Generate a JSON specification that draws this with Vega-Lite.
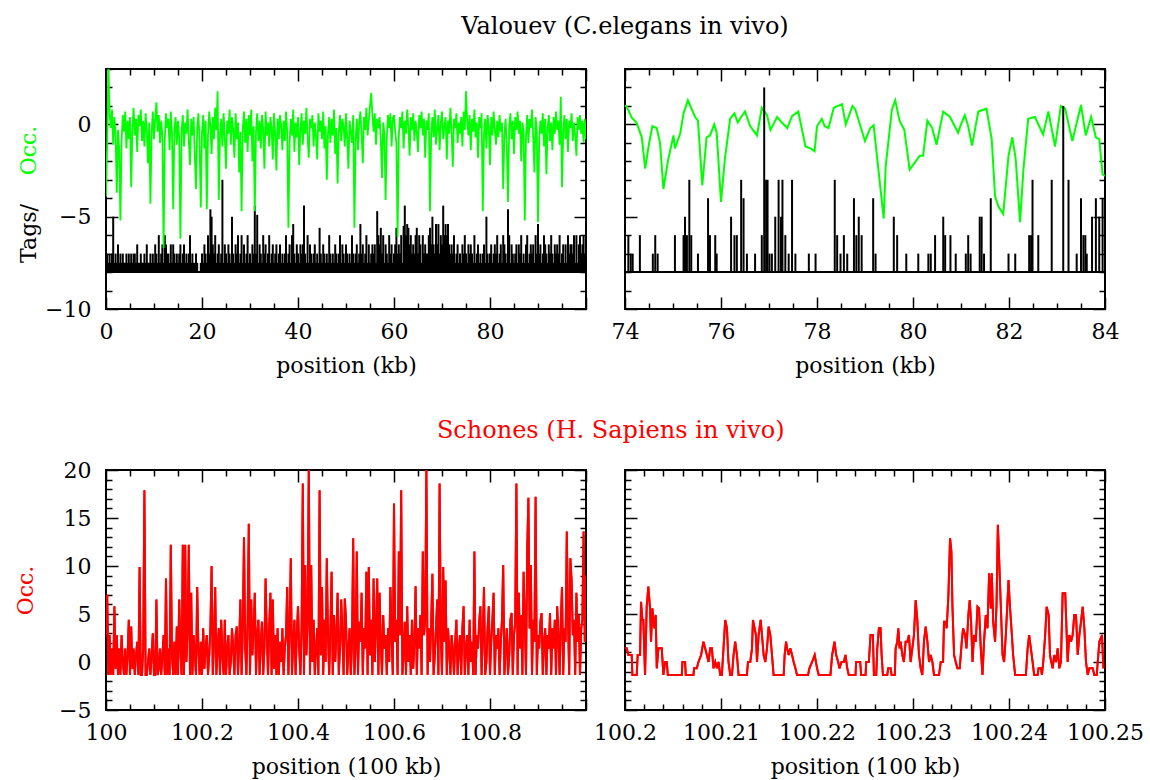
{
"$schema":"https://vega.github.io/schema/vega-lite/v6.json",
"background":"white",
"padding":{"left":13,"top":15,"right":4,"bottom":4},
"config":{"font":"DejaVu Serif","view":{"stroke":"black","strokeWidth":2},
"axis":{"grid":false,"domain":false,"labelFlush":false,"labelOverlap":false,"tickColor":"black","tickWidth":1.5,"labelFont":"DejaVu Serif","labelFontSize":22,"labelColor":"black","titleFont":"DejaVu Serif","titleFontSize":22,"titleFontWeight":"normal","titleColor":"black"},
"title":{"font":"DejaVu Serif","fontSize":24,"fontWeight":"normal","anchor":"middle"}},
"datasets":{
"a":[{"x":0,"o":-3.9,"t":-7.5},{"x":0.25,"o":-1,"t":-7},{"x":0.5,"o":3.2,"t":-7.5},{"x":0.75,"o":0.6,"t":-7},
{"x":1,"o":-0.2,"t":-7.5},{"x":1.25,"o":0.8,"t":-7},{"x":1.5,"o":-1.1,"t":-5},{"x":1.75,"o":0.4,"t":-7.5},
{"x":2,"o":-0.6,"t":-7},{"x":2.25,"o":-3.7,"t":-7.5},{"x":2.5,"o":-0.3,"t":-6.5},{"x":2.75,"o":-1.4,"t":-7.5},
{"x":3,"o":-5.2,"t":-7},{"x":3.25,"o":-0.9,"t":-7.5},{"x":3.5,"o":0.5,"t":-7},{"x":3.75,"o":-0.4,"t":-7.5},
{"x":4,"o":0.7,"t":-7.5},{"x":4.25,"o":-1.3,"t":-7},{"x":4.5,"o":0.2,"t":-7.5},{"x":4.75,"o":-0.8,"t":-7},
{"x":5,"o":0.4,"t":-7.5},{"x":5.25,"o":-3.4,"t":-7},{"x":5.5,"o":-0.2,"t":-7.5},{"x":5.75,"o":0.9,"t":-7},
{"x":6,"o":-0.6,"t":-7},{"x":6.25,"o":0.3,"t":-7.5},{"x":6.5,"o":-1.5,"t":-6.5},{"x":6.75,"o":0.5,"t":-7.5},
{"x":7,"o":-0.1,"t":-7.5},{"x":7.25,"o":0.8,"t":-7},{"x":7.5,"o":-0.9,"t":-7.5},{"x":7.75,"o":0.2,"t":-7.5},
{"x":8,"o":-1.2,"t":-7},{"x":8.25,"o":0.6,"t":-7.5},{"x":8.5,"o":-0.3,"t":-6.5},{"x":8.75,"o":-2.1,"t":-7.5},
{"x":9,"o":0.1,"t":-7.5},{"x":9.25,"o":-4.3,"t":-7},{"x":9.5,"o":-0.5,"t":-7.5},{"x":9.75,"o":0.7,"t":-7},
{"x":10,"o":-0.8,"t":-7.5},{"x":10.25,"o":0.3,"t":-6.5},{"x":10.5,"o":1.2,"t":-7},{"x":10.75,"o":-0.4,"t":-7.5},
{"x":11,"o":0.5,"t":-6},{"x":11.25,"o":-1,"t":-7.5},{"x":11.5,"o":0.2,"t":-7},{"x":11.75,"o":-0.6,"t":-6.5},
{"x":12,"o":-6.7,"t":-7.5},{"x":12.25,"o":-0.8,"t":-6},{"x":12.5,"o":0.6,"t":-6.5},{"x":12.75,"o":-0.2,"t":-7},
{"x":13,"o":0.3,"t":-7},{"x":13.25,"o":-1.4,"t":-7.5},{"x":13.5,"o":0.7,"t":-6.5},{"x":13.75,"o":-0.5,"t":-7.5},
{"x":14,"o":-4.6,"t":-6.5},{"x":14.25,"o":-0.3,"t":-7},{"x":14.5,"o":0.4,"t":-7.5},{"x":14.75,"o":-1.1,"t":-7},
{"x":15,"o":0.2,"t":-7.5},{"x":15.25,"o":-0.7,"t":-7},{"x":15.5,"o":-6.2,"t":-6.5},{"x":15.75,"o":-0.4,"t":-7.5},
{"x":16,"o":0.5,"t":-7},{"x":16.25,"o":-1.2,"t":-6.5},{"x":16.5,"o":0.1,"t":-7.5},{"x":16.75,"o":-0.5,"t":-7},
{"x":17,"o":0.8,"t":-7.5},{"x":17.25,"o":-0.9,"t":-7},{"x":17.5,"o":-2.2,"t":-6},{"x":17.75,"o":0.3,"t":-7.5},
{"x":18,"o":-0.6,"t":-7},{"x":18.25,"o":0.4,"t":-7.5},{"x":18.5,"o":-1.7,"t":-7.5},{"x":18.75,"o":-3.5,"t":-7},
{"x":19,"o":-0.2,"t":-7.5},{"x":19.25,"o":0.6,"t":-8},{"x":19.5,"o":-1,"t":-8},{"x":19.75,"o":-4.5,"t":-7.5},
{"x":20,"o":-0.4,"t":-7},{"x":20.25,"o":0.5,"t":-7.5},{"x":20.5,"o":-1.3,"t":-6.5},{"x":20.75,"o":0.2,"t":-7},
{"x":21,"o":-4.6,"t":-7.5},{"x":21.25,"o":-0.6,"t":-6},{"x":21.5,"o":0.7,"t":-7},{"x":21.75,"o":-0.1,"t":-4.6},
{"x":22,"o":-1.6,"t":-5},{"x":22.25,"o":0.4,"t":-6.5},{"x":22.5,"o":-0.8,"t":-7},{"x":22.75,"o":0.9,"t":-6},
{"x":23,"o":-0.3,"t":-7.5},{"x":23.25,"o":1.8,"t":-7},{"x":23.5,"o":-4.1,"t":-6.5},{"x":23.75,"o":-0.5,"t":-7.5},
{"x":24,"o":0.3,"t":-7},{"x":24.25,"o":-1.2,"t":-3},{"x":24.5,"o":0.6,"t":-7.5},{"x":24.75,"o":-0.7,"t":-6.5},
{"x":25,"o":-2.4,"t":-7},{"x":25.25,"o":0.2,"t":-7.5},{"x":25.5,"o":-0.5,"t":-6.5},{"x":25.75,"o":0.8,"t":-7},
{"x":26,"o":-1.1,"t":-7.5},{"x":26.25,"o":0.4,"t":-5},{"x":26.5,"o":-0.3,"t":-7},{"x":26.75,"o":-1.8,"t":-7.5},
{"x":27,"o":0.6,"t":-6.5},{"x":27.25,"o":-0.8,"t":-7},{"x":27.5,"o":0.1,"t":-6},{"x":27.75,"o":-2.6,"t":-7.5},
{"x":28,"o":-0.4,"t":-7},{"x":28.25,"o":-4.7,"t":-6},{"x":28.5,"o":-0.2,"t":-7.5},{"x":28.75,"o":0.7,"t":-6.5},
{"x":29,"o":-1,"t":-7.5},{"x":29.25,"o":0.3,"t":-7},{"x":29.5,"o":-1.5,"t":-6},{"x":29.75,"o":0.5,"t":-7.5},
{"x":30,"o":-0.6,"t":-7},{"x":30.25,"o":0.8,"t":-7.5},{"x":30.5,"o":-2,"t":-6.5},{"x":30.75,"o":-0.1,"t":-7},
{"x":31,"o":-4.7,"t":-4.4},{"x":31.25,"o":-0.4,"t":-7},{"x":31.5,"o":0.6,"t":-4.9},{"x":31.75,"o":-0.9,"t":-7.5},
{"x":32,"o":0.2,"t":-6.5},{"x":32.25,"o":-1.3,"t":-7},{"x":32.5,"o":0.5,"t":-7.5},{"x":32.75,"o":-0.3,"t":-6},
{"x":33,"o":-2.4,"t":-7},{"x":33.25,"o":0.7,"t":-6.5},{"x":33.5,"o":-0.6,"t":-7.5},{"x":33.75,"o":0.1,"t":-7},
{"x":34,"o":-1.2,"t":-6},{"x":34.25,"o":0.4,"t":-7.5},{"x":34.5,"o":-0.2,"t":-7},{"x":34.75,"o":-1.9,"t":-6.5},
{"x":35,"o":0.6,"t":-7.5},{"x":35.25,"o":-0.5,"t":-7},{"x":35.5,"o":-2.5,"t":-6.5},{"x":35.75,"o":0.3,"t":-7.5},
{"x":36,"o":-0.8,"t":-7},{"x":36.25,"o":0.5,"t":-6.5},{"x":36.5,"o":-0.1,"t":-7.5},{"x":36.75,"o":-1.4,"t":-7},
{"x":37,"o":0.2,"t":-7.5},{"x":37.25,"o":-0.9,"t":-7},{"x":37.5,"o":0.7,"t":-6},{"x":37.75,"o":-0.4,"t":-7.5},
{"x":38,"o":-5.6,"t":-7},{"x":38.25,"o":-1,"t":-6.5},{"x":38.5,"o":0.3,"t":-7.5},{"x":38.75,"o":-0.6,"t":-6},
{"x":39,"o":0.8,"t":-5.4},{"x":39.25,"o":-1.5,"t":-7},{"x":39.5,"o":0.1,"t":-7.5},{"x":39.75,"o":-0.7,"t":-6.5},
{"x":40,"o":0.4,"t":-7},{"x":40.25,"o":-2.2,"t":-7.5},{"x":40.5,"o":-0.3,"t":-6.5},{"x":40.75,"o":0.6,"t":-7},
{"x":41,"o":-1.1,"t":-6.5},{"x":41.25,"o":0.2,"t":-4.4},{"x":41.5,"o":-0.5,"t":-7},{"x":41.75,"o":0.9,"t":-7.5},
{"x":42,"o":-0.7,"t":-6},{"x":42.25,"o":-1.8,"t":-7.5},{"x":42.5,"o":0.3,"t":-6.5},{"x":42.75,"o":-0.2,"t":-7},
{"x":43,"o":0.5,"t":-7.5},{"x":43.25,"o":-1.2,"t":-7},{"x":43.5,"o":0.1,"t":-6.5},{"x":43.75,"o":-0.6,"t":-7.5},
{"x":44,"o":-1.9,"t":-7},{"x":44.25,"o":0.6,"t":-7.5},{"x":44.5,"o":-0.4,"t":-5.6},{"x":44.75,"o":0.2,"t":-7},
{"x":45,"o":-0.8,"t":-7.5},{"x":45.25,"o":0.7,"t":-6.5},{"x":45.5,"o":-1.3,"t":-7},{"x":45.75,"o":-0.1,"t":-7.5},
{"x":46,"o":-3,"t":-7},{"x":46.25,"o":-0.5,"t":-7.5},{"x":46.5,"o":0.4,"t":-6},{"x":46.75,"o":-1,"t":-7},
{"x":47,"o":0.3,"t":-7.5},{"x":47.25,"o":-0.6,"t":-7},{"x":47.5,"o":0.8,"t":-7.5},{"x":47.75,"o":-1.6,"t":-6.5},
{"x":48,"o":-0.2,"t":-7},{"x":48.25,"o":-3.2,"t":-7.5},{"x":48.5,"o":-0.4,"t":-7},{"x":48.75,"o":0.5,"t":-6},
{"x":49,"o":-0.9,"t":-7.5},{"x":49.25,"o":0.3,"t":-6.5},{"x":49.5,"o":-0.1,"t":-7},{"x":49.75,"o":-1.2,"t":-7.5},
{"x":50,"o":0.6,"t":-6.5},{"x":50.25,"o":-0.7,"t":-7},{"x":50.5,"o":-2.4,"t":-7.5},{"x":50.75,"o":0.2,"t":-7},
{"x":51,"o":-0.4,"t":-7.5},{"x":51.25,"o":-1,"t":-6},{"x":51.5,"o":0.5,"t":-7},{"x":51.75,"o":-5.6,"t":-7.5},
{"x":52,"o":-0.8,"t":-7},{"x":52.25,"o":0.3,"t":-6.5},{"x":52.5,"o":-1.4,"t":-7.5},{"x":52.75,"o":0.1,"t":-7},
{"x":53,"o":0.7,"t":-5.4},{"x":53.25,"o":-0.5,"t":-7},{"x":53.5,"o":-2.1,"t":-6.5},{"x":53.75,"o":0.4,"t":-7.5},
{"x":54,"o":-0.3,"t":-7},{"x":54.25,"o":0.9,"t":-6},{"x":54.5,"o":-0.6,"t":-7.5},{"x":54.75,"o":0.2,"t":-6.5},
{"x":55,"o":1,"t":-7.5},{"x":55.25,"o":1.7,"t":-7},{"x":55.5,"o":0.5,"t":-6.5},{"x":55.75,"o":-0.4,"t":-7},
{"x":56,"o":0.6,"t":-6.5},{"x":56.25,"o":-1.1,"t":-7.5},{"x":56.5,"o":0.3,"t":-4.7},{"x":56.75,"o":-0.2,"t":-6},
{"x":57,"o":0.4,"t":-6.5},{"x":57.25,"o":-0.8,"t":-5.6},{"x":57.5,"o":-2.9,"t":-7},{"x":57.75,"o":0.1,"t":-6},
{"x":58,"o":-0.5,"t":-7.5},{"x":58.25,"o":-4.1,"t":-6.5},{"x":58.5,"o":-0.7,"t":-7},{"x":58.75,"o":0.5,"t":-7.5},
{"x":59,"o":-0.2,"t":-6},{"x":59.25,"o":0.6,"t":-7},{"x":59.5,"o":-1.2,"t":-6.5},{"x":59.75,"o":0.3,"t":-7.5},
{"x":60,"o":0.5,"t":-7},{"x":60.25,"o":-0.4,"t":-6.5},{"x":60.5,"o":-1,"t":-5.6},{"x":60.75,"o":-6.1,"t":-7},
{"x":61,"o":-0.6,"t":-6.5},{"x":61.25,"o":0.4,"t":-7},{"x":61.5,"o":-0.2,"t":-6},{"x":61.75,"o":0.7,"t":-7.5},
{"x":62,"o":-1.3,"t":-5.5},{"x":62.25,"o":0.2,"t":-4.4},{"x":62.5,"o":-0.5,"t":-6},{"x":62.75,"o":0.8,"t":-5.4},
{"x":63,"o":-0.1,"t":-5.6},{"x":63.25,"o":-1.7,"t":-6.5},{"x":63.5,"o":0.4,"t":-6},{"x":63.75,"o":-0.3,"t":-7},
{"x":64,"o":0.6,"t":-6.5},{"x":64.25,"o":-0.9,"t":-7},{"x":64.5,"o":0.2,"t":-6},{"x":64.75,"o":-0.4,"t":-5.6},
{"x":65,"o":-1.5,"t":-7},{"x":65.25,"o":0.5,"t":-6},{"x":65.5,"o":-0.2,"t":-6.5},{"x":65.75,"o":0.7,"t":-7.5},
{"x":66,"o":-0.6,"t":-6},{"x":66.25,"o":0.3,"t":-7},{"x":66.5,"o":-1.8,"t":-6.5},{"x":66.75,"o":0.2,"t":-7},
{"x":67,"o":-0.3,"t":-7},{"x":67.25,"o":0.6,"t":-6},{"x":67.5,"o":-4.7,"t":-5.6},{"x":67.75,"o":-0.5,"t":-6.5},
{"x":68,"o":0.4,"t":-5},{"x":68.25,"o":-0.7,"t":-6.5},{"x":68.5,"o":0.8,"t":-7},{"x":68.75,"o":-1.1,"t":-5.4},
{"x":69,"o":-0.2,"t":-6.5},{"x":69.25,"o":0.5,"t":-5.4},{"x":69.5,"o":-1.4,"t":-7},{"x":69.75,"o":0.1,"t":-6},
{"x":70,"o":0.7,"t":-6.5},{"x":70.25,"o":-0.8,"t":-4.4},{"x":70.5,"o":-0.1,"t":-6},{"x":70.75,"o":0.4,"t":-5.4},
{"x":71,"o":-1.9,"t":-6},{"x":71.25,"o":0.2,"t":-5.4},{"x":71.5,"o":-0.5,"t":-6.5},{"x":71.75,"o":0.9,"t":-7},
{"x":72,"o":-0.4,"t":-6.5},{"x":72.25,"o":-2.3,"t":-7},{"x":72.5,"o":0.3,"t":-6},{"x":72.75,"o":-0.2,"t":-7.5},
{"x":73,"o":0.6,"t":-7},{"x":73.25,"o":-1,"t":-6.5},{"x":73.5,"o":0.1,"t":-7.5},{"x":73.75,"o":-0.5,"t":-7},
{"x":74,"o":0.4,"t":-7.5},{"x":74.25,"o":-1.2,"t":-6.5},{"x":74.5,"o":0.7,"t":-7},{"x":74.75,"o":-0.3,"t":-6},
{"x":75,"o":1.8,"t":-7},{"x":75.25,"o":0.2,"t":-7.5},{"x":75.5,"o":-0.6,"t":-6.5},{"x":75.75,"o":0.5,"t":-7},
{"x":76,"o":-1.4,"t":-6.5},{"x":76.25,"o":0.3,"t":-7},{"x":76.5,"o":-0.4,"t":-7.5},{"x":76.75,"o":0.8,"t":-6},
{"x":77,"o":-0.7,"t":-7.5},{"x":77.25,"o":0.1,"t":-7},{"x":77.5,"o":-1.8,"t":-6.5},{"x":77.75,"o":0.4,"t":-7.5},
{"x":78,"o":-0.2,"t":-7},{"x":78.25,"o":0.6,"t":-7.5},{"x":78.5,"o":-4.7,"t":-7},{"x":78.75,"o":-0.5,"t":-6.5},
{"x":79,"o":0.3,"t":-7.5},{"x":79.25,"o":-1.3,"t":-5},{"x":79.5,"o":0.5,"t":-7},{"x":79.75,"o":-0.1,"t":-7.5},
{"x":80,"o":-2.2,"t":-7},{"x":80.25,"o":0.4,"t":-6.5},{"x":80.5,"o":-0.6,"t":-7.5},{"x":80.75,"o":0.7,"t":-7},
{"x":81,"o":-0.3,"t":-6.5},{"x":81.25,"o":-1.1,"t":-7},{"x":81.5,"o":0.2,"t":-6},{"x":81.75,"o":-0.7,"t":-7.5},
{"x":82,"o":0.5,"t":-7},{"x":82.25,"o":-0.4,"t":-6.5},{"x":82.5,"o":0.1,"t":-7.5},{"x":82.75,"o":-3.5,"t":-6},
{"x":83,"o":-0.6,"t":-6.5},{"x":83.25,"o":0.3,"t":-7},{"x":83.5,"o":-1.2,"t":-7.5},{"x":83.75,"o":-4.2,"t":-4.6},
{"x":84,"o":-0.1,"t":-6},{"x":84.25,"o":0.6,"t":-7.5},{"x":84.5,"o":-0.8,"t":-6.5},{"x":84.75,"o":0.2,"t":-7},
{"x":85,"o":-1.6,"t":-7.5},{"x":85.25,"o":0.4,"t":-7},{"x":85.5,"o":-0.3,"t":-6.5},{"x":85.75,"o":0.7,"t":-7.5},
{"x":86,"o":-0.5,"t":-6.5},{"x":86.25,"o":0.2,"t":-7},{"x":86.5,"o":-2,"t":-6},{"x":86.75,"o":0.1,"t":-7.5},
{"x":87,"o":-0.4,"t":-7},{"x":87.25,"o":-5.2,"t":-7.5},{"x":87.5,"o":-0.6,"t":-6.5},{"x":87.75,"o":0.5,"t":-6},
{"x":88,"o":-1,"t":-7.5},{"x":88.25,"o":0.3,"t":-7},{"x":88.5,"o":-0.2,"t":-6.5},{"x":88.75,"o":0.8,"t":-7},
{"x":89,"o":-0.7,"t":-6.5},{"x":89.25,"o":-2.6,"t":-7.5},{"x":89.5,"o":0.4,"t":-6},{"x":89.75,"o":-0.3,"t":-7},
{"x":90,"o":-5.3,"t":-5.4},{"x":90.25,"o":-0.8,"t":-7},{"x":90.5,"o":0.2,"t":-6.5},{"x":90.75,"o":-0.5,"t":-7.5},
{"x":91,"o":0.6,"t":-7},{"x":91.25,"o":-1.2,"t":-6},{"x":91.5,"o":0.3,"t":-6.5},{"x":91.75,"o":-2.7,"t":-7},
{"x":92,"o":-0.2,"t":-7.5},{"x":92.25,"o":0.5,"t":-6.5},{"x":92.5,"o":-0.9,"t":-7},{"x":92.75,"o":0.1,"t":-6},
{"x":93,"o":-1.4,"t":-7},{"x":93.25,"o":0.4,"t":-7.5},{"x":93.5,"o":-0.5,"t":-6.5},{"x":93.75,"o":0.7,"t":-7},
{"x":94,"o":-0.3,"t":-6.5},{"x":94.25,"o":0.2,"t":-7},{"x":94.5,"o":-1.1,"t":-6},{"x":94.75,"o":1.5,"t":-7.5},
{"x":95,"o":-3.4,"t":-7},{"x":95.25,"o":-0.4,"t":-6.5},{"x":95.5,"o":0.5,"t":-7.5},{"x":95.75,"o":-0.8,"t":-6.5},
{"x":96,"o":0.3,"t":-7.5},{"x":96.25,"o":-1.5,"t":-6},{"x":96.5,"o":0.2,"t":-7},{"x":96.75,"o":-0.2,"t":-6.5},
{"x":97,"o":0.6,"t":-6.5},{"x":97.25,"o":-0.9,"t":-7},{"x":97.5,"o":0.1,"t":-6},{"x":97.75,"o":-0.6,"t":-7.5},
{"x":98,"o":-1.7,"t":-6},{"x":98.25,"o":0.4,"t":-7.5},{"x":98.5,"o":-0.3,"t":-6.5},{"x":98.75,"o":0.5,"t":-6},
{"x":99,"o":-0.5,"t":-7},{"x":99.25,"o":0.2,"t":-6.5},{"x":99.5,"o":-1,"t":-6},{"x":99.75,"o":0.3,"t":-7},
{"x":100,"o":-0.8,"t":-6}],
"bo":[{"x":74,"o":1},{"x":74.03,"o":1},{"x":74.14,"o":0.36},{"x":74.24,"o":0.1},{"x":74.35,"o":-0.7},{"x":74.42,"o":-2.4},{"x":74.49,"o":-1.2},{"x":74.57,"o":-0.1},{"x":74.66,"o":-0.2},{"x":74.73,"o":-1},{"x":74.8,"o":-3.5},{"x":74.9,"o":-1.9},{"x":75.01,"o":-0.6},{"x":75.04,"o":-1.3},{"x":75.15,"o":-0.5},{"x":75.22,"o":0.6},{"x":75.31,"o":1.3},{"x":75.46,"o":0.4},{"x":75.52,"o":0.2},{"x":75.61,"o":-3.3},{"x":75.7,"o":-0.7},{"x":75.77,"o":-0.6},{"x":75.86,"o":0},{"x":75.91,"o":-0.45},{"x":76,"o":-4.2},{"x":76.08,"o":-1.9},{"x":76.19,"o":0.3},{"x":76.28,"o":0.6},{"x":76.35,"o":0.1},{"x":76.42,"o":0.4},{"x":76.5,"o":0.7},{"x":76.61,"o":-0.1},{"x":76.75,"o":-0.6},{"x":76.85,"o":0.9},{"x":76.96,"o":0.5},{"x":77.03,"o":-0.3},{"x":77.17,"o":0.4},{"x":77.27,"o":0.1},{"x":77.38,"o":-0.2},{"x":77.48,"o":0.45},{"x":77.61,"o":0.7},{"x":77.76,"o":-1.2},{"x":77.86,"o":-1.3},{"x":77.95,"o":-1.45},{"x":78,"o":-0.1},{"x":78.1,"o":0.3},{"x":78.16,"o":-0.1},{"x":78.24,"o":-0.2},{"x":78.35,"o":0.9},{"x":78.52,"o":1.1},{"x":78.6,"o":0},{"x":78.74,"o":1},{"x":78.8,"o":0.8},{"x":78.87,"o":0.2},{"x":79,"o":-0.9},{"x":79.11,"o":-0.2},{"x":79.18,"o":-0.05},{"x":79.39,"o":-5.1},{"x":79.43,"o":-2.3},{"x":79.56,"o":0.8},{"x":79.63,"o":1.3},{"x":79.72,"o":0.2},{"x":79.82,"o":-0.3},{"x":79.93,"o":-2.45},{"x":80.03,"o":-2.1},{"x":80.14,"o":-1.7},{"x":80.21,"o":-1.7},{"x":80.3,"o":0.2},{"x":80.4,"o":-0.2},{"x":80.49,"o":-1.1},{"x":80.63,"o":0.7},{"x":80.77,"o":0.4},{"x":80.94,"o":-0.45},{"x":81,"o":0},{"x":81.08,"o":0.5},{"x":81.15,"o":-0.1},{"x":81.23,"o":-1.15},{"x":81.36,"o":0.7},{"x":81.53,"o":0.85},{"x":81.64,"o":-0.8},{"x":81.71,"o":-3.9},{"x":81.78,"o":-4.45},{"x":81.88,"o":-4.85},{"x":81.99,"o":-1.7},{"x":82.07,"o":-0.7},{"x":82.14,"o":-1.9},{"x":82.23,"o":-5.3},{"x":82.3,"o":-2.45},{"x":82.4,"o":0.3},{"x":82.54,"o":0.4},{"x":82.71,"o":-0.55},{"x":82.82,"o":0.7},{"x":82.96,"o":-1.2},{"x":83.08,"o":1},{"x":83.17,"o":0.85},{"x":83.32,"o":-0.9},{"x":83.5,"o":1.05},{"x":83.6,"o":-0.6},{"x":83.71,"o":0.4},{"x":83.81,"o":-0.7},{"x":83.88,"o":-0.8},{"x":83.92,"o":-1.9},{"x":83.95,"o":-2.7},{"x":84,"o":-2.8}],
"bt":[{"x":74.07,"t":-6},{"x":74.12,"t":-7},{"x":74.16,"t":-7},{"x":74.31,"t":-6},{"x":74.58,"t":-7},{"x":74.63,"t":-6},{"x":74.68,"t":-7},{"x":75.04,"t":-6},{"x":75.22,"t":-6},{"x":75.25,"t":-5},{"x":75.29,"t":-6},{"x":75.34,"t":-3},{"x":75.38,"t":-6},{"x":75.52,"t":-7},{"x":75.73,"t":-4},{"x":75.77,"t":-6},{"x":75.88,"t":-6},{"x":75.91,"t":-7},{"x":76.21,"t":-5},{"x":76.28,"t":-6},{"x":76.33,"t":-6},{"x":76.42,"t":-3},{"x":76.47,"t":-4},{"x":76.54,"t":-7},{"x":76.71,"t":-7},{"x":76.85,"t":-6},{"x":76.9,"t":2},{"x":76.94,"t":-3},{"x":76.97,"t":-3},{"x":77.01,"t":-7},{"x":77.06,"t":-7},{"x":77.13,"t":-5},{"x":77.2,"t":-3},{"x":77.25,"t":-5},{"x":77.28,"t":-3},{"x":77.34,"t":-6},{"x":77.41,"t":-7},{"x":77.48,"t":-3},{"x":77.55,"t":-7},{"x":77.83,"t":-7},{"x":77.97,"t":-7},{"x":78.37,"t":-3},{"x":78.42,"t":-6},{"x":78.49,"t":-7},{"x":78.56,"t":-6},{"x":78.63,"t":-7},{"x":78.77,"t":-4},{"x":78.82,"t":-6},{"x":78.87,"t":-5},{"x":78.93,"t":-6},{"x":79.17,"t":-4},{"x":79.22,"t":-7},{"x":79.6,"t":-5},{"x":79.67,"t":-6},{"x":79.86,"t":-7},{"x":80.11,"t":-7},{"x":80.32,"t":-7},{"x":80.37,"t":-7},{"x":80.46,"t":-6},{"x":80.63,"t":-5},{"x":80.67,"t":-6},{"x":80.78,"t":-6},{"x":80.89,"t":-7},{"x":81.1,"t":-7},{"x":81.15,"t":-6},{"x":81.2,"t":-7},{"x":81.39,"t":-5},{"x":81.43,"t":-5},{"x":81.48,"t":-7},{"x":81.62,"t":-4},{"x":81.99,"t":-7},{"x":82.13,"t":-7},{"x":82.42,"t":-6},{"x":82.46,"t":-6},{"x":82.49,"t":-3},{"x":82.61,"t":-6},{"x":82.89,"t":-3},{"x":83.13,"t":1},{"x":83.24,"t":-3},{"x":83.41,"t":-7},{"x":83.5,"t":-4},{"x":83.55,"t":-6},{"x":83.59,"t":-6},{"x":83.62,"t":-7},{"x":83.73,"t":-5},{"x":83.81,"t":-4},{"x":83.88,"t":-5},{"x":83.95,"t":-4}],
"c":[{"x":100,"y":2.8},{"x":100.0025,"y":7},{"x":100.005,"y":-1.35},{"x":100.0075,"y":2.8},{"x":100.01,"y":-1.35},{"x":100.0125,"y":1.4},{"x":100.015,"y":-1.35},{"x":100.0175,"y":5.8},{"x":100.02,"y":-0.7},{"x":100.0225,"y":2.8},
{"x":100.025,"y":-1.35},{"x":100.0275,"y":1.4},{"x":100.03,"y":-1.35},{"x":100.0325,"y":2.8},{"x":100.035,"y":0},{"x":100.0375,"y":-1.35},{"x":100.04,"y":1.4},{"x":100.0425,"y":-1.35},{"x":100.045,"y":0.7},{"x":100.0475,"y":4.4},
{"x":100.05,"y":-1.35},{"x":100.0525,"y":3.7},{"x":100.055,"y":-0.7},{"x":100.0575,"y":1.4},{"x":100.06,"y":-1.35},{"x":100.0625,"y":0.7},{"x":100.065,"y":2.1},{"x":100.0675,"y":-1.35},{"x":100.07,"y":9.9},{"x":100.0725,"y":-1.35},
{"x":100.075,"y":-1.35},{"x":100.0775,"y":1.4},{"x":100.08,"y":17.9},{"x":100.0825,"y":-1.35},{"x":100.085,"y":-1.35},{"x":100.0875,"y":0},{"x":100.09,"y":1.4},{"x":100.0925,"y":-1.35},{"x":100.095,"y":0.7},{"x":100.0975,"y":3},
{"x":100.1,"y":-1.35},{"x":100.1025,"y":-1.35},{"x":100.105,"y":6.5},{"x":100.1075,"y":-1.35},{"x":100.11,"y":-0.7},{"x":100.1125,"y":1.4},{"x":100.115,"y":-1.35},{"x":100.1175,"y":0.7},{"x":100.12,"y":2.8},{"x":100.1225,"y":-1.35},
{"x":100.125,"y":8.7},{"x":100.1275,"y":-1.35},{"x":100.13,"y":1.4},{"x":100.1325,"y":-1.35},{"x":100.135,"y":12.2},{"x":100.1375,"y":0.7},{"x":100.14,"y":-1.35},{"x":100.1425,"y":2.1},{"x":100.145,"y":-1.35},{"x":100.1475,"y":3.7},
{"x":100.15,"y":-1.35},{"x":100.1525,"y":6.5},{"x":100.155,"y":1.4},{"x":100.1575,"y":-1.35},{"x":100.16,"y":12.2},{"x":100.1625,"y":-1.35},{"x":100.165,"y":12.2},{"x":100.1675,"y":0},{"x":100.17,"y":3.5},{"x":100.1725,"y":12.2},
{"x":100.175,"y":-1.35},{"x":100.1775,"y":7.2},{"x":100.18,"y":-1.35},{"x":100.1825,"y":2.8},{"x":100.185,"y":0.7},{"x":100.1875,"y":-1.35},{"x":100.19,"y":7.8},{"x":100.1925,"y":1.4},{"x":100.195,"y":-1.35},{"x":100.1975,"y":2.1},
{"x":100.2,"y":-1.35},{"x":100.2025,"y":3.5},{"x":100.205,"y":-0.7},{"x":100.2075,"y":1.4},{"x":100.21,"y":2.8},{"x":100.2125,"y":-1.35},{"x":100.215,"y":0.7},{"x":100.2175,"y":3.5},{"x":100.22,"y":10},{"x":100.2225,"y":-1.35},
{"x":100.225,"y":2.1},{"x":100.2275,"y":7.8},{"x":100.23,"y":-1.35},{"x":100.2325,"y":1.4},{"x":100.235,"y":3.5},{"x":100.2375,"y":-1.35},{"x":100.24,"y":4.4},{"x":100.2425,"y":0.7},{"x":100.245,"y":-1.35},{"x":100.2475,"y":4.4},
{"x":100.25,"y":-1.35},{"x":100.2525,"y":1.4},{"x":100.255,"y":2.8},{"x":100.2575,"y":-1.35},{"x":100.26,"y":0},{"x":100.2625,"y":3.5},{"x":100.265,"y":1.4},{"x":100.2675,"y":-1.35},{"x":100.27,"y":2.8},{"x":100.2725,"y":3.7},
{"x":100.275,"y":-1.35},{"x":100.2775,"y":2.1},{"x":100.28,"y":6.5},{"x":100.2825,"y":-1.35},{"x":100.285,"y":3.5},{"x":100.2875,"y":13},{"x":100.29,"y":1.4},{"x":100.2925,"y":-1.35},{"x":100.295,"y":4.2},{"x":100.2975,"y":14.4},
{"x":100.3,"y":-1.35},{"x":100.3025,"y":6.5},{"x":100.305,"y":0.7},{"x":100.3075,"y":3.5},{"x":100.31,"y":7.2},{"x":100.3125,"y":-1.35},{"x":100.315,"y":2.8},{"x":100.3175,"y":4.4},{"x":100.32,"y":-1.35},{"x":100.3225,"y":2.1},
{"x":100.325,"y":4.2},{"x":100.3275,"y":-1.35},{"x":100.33,"y":1.4},{"x":100.3325,"y":8.7},{"x":100.335,"y":2.8},{"x":100.3375,"y":-1.35},{"x":100.34,"y":3.5},{"x":100.3425,"y":7.2},{"x":100.345,"y":-1.35},{"x":100.3475,"y":6.5},
{"x":100.35,"y":-0.7},{"x":100.3525,"y":2.8},{"x":100.355,"y":-1.35},{"x":100.3575,"y":3.5},{"x":100.36,"y":-1.35},{"x":100.3625,"y":2.1},{"x":100.365,"y":0},{"x":100.3675,"y":3.5},{"x":100.37,"y":-1.35},{"x":100.3725,"y":1.4},
{"x":100.375,"y":2.8},{"x":100.3775,"y":7.8},{"x":100.38,"y":-1.35},{"x":100.3825,"y":3.5},{"x":100.385,"y":10.8},{"x":100.3875,"y":-1.35},{"x":100.39,"y":2.1},{"x":100.3925,"y":4.4},{"x":100.395,"y":-1.35},{"x":100.3975,"y":2.8},
{"x":100.4,"y":5.8},{"x":100.4025,"y":1.4},{"x":100.405,"y":-1.35},{"x":100.4075,"y":3.5},{"x":100.41,"y":18.6},{"x":100.4125,"y":-1.35},{"x":100.415,"y":10.1},{"x":100.4175,"y":0.7},{"x":100.42,"y":4.2},{"x":100.4225,"y":20.5},
{"x":100.425,"y":-1.35},{"x":100.4275,"y":10.1},{"x":100.43,"y":0},{"x":100.4325,"y":4.4},{"x":100.435,"y":-1.35},{"x":100.4375,"y":1.4},{"x":100.44,"y":3.5},{"x":100.4425,"y":-1.35},{"x":100.445,"y":17.9},{"x":100.4475,"y":0.7},
{"x":100.45,"y":7.8},{"x":100.4525,"y":-1.35},{"x":100.455,"y":4.4},{"x":100.4575,"y":0},{"x":100.46,"y":10.8},{"x":100.4625,"y":2.8},{"x":100.465,"y":-1.35},{"x":100.4675,"y":3.5},{"x":100.47,"y":9.4},{"x":100.4725,"y":-1.35},
{"x":100.475,"y":4.9},{"x":100.4775,"y":0},{"x":100.48,"y":2.8},{"x":100.4825,"y":7.2},{"x":100.485,"y":-1.35},{"x":100.4875,"y":1.4},{"x":100.49,"y":6.5},{"x":100.4925,"y":2.8},{"x":100.495,"y":-1.35},{"x":100.4975,"y":6.6},
{"x":100.5,"y":4.4},{"x":100.5025,"y":-1.35},{"x":100.505,"y":1.4},{"x":100.5075,"y":3.5},{"x":100.51,"y":-1.35},{"x":100.5125,"y":2.1},{"x":100.515,"y":12.9},{"x":100.5175,"y":-1.35},{"x":100.52,"y":1.4},{"x":100.5225,"y":11.5},
{"x":100.525,"y":-1.35},{"x":100.5275,"y":4.2},{"x":100.53,"y":2.1},{"x":100.5325,"y":7.2},{"x":100.535,"y":-1.35},{"x":100.5375,"y":3.5},{"x":100.54,"y":1.4},{"x":100.5425,"y":9.4},{"x":100.545,"y":-1.35},{"x":100.5475,"y":9.9},
{"x":100.55,"y":0.7},{"x":100.5525,"y":4.4},{"x":100.555,"y":-1.35},{"x":100.5575,"y":8.7},{"x":100.56,"y":0},{"x":100.5625,"y":3.5},{"x":100.565,"y":8.7},{"x":100.5675,"y":-1.35},{"x":100.57,"y":7.2},{"x":100.5725,"y":2.1},
{"x":100.575,"y":-1.35},{"x":100.5775,"y":4.9},{"x":100.58,"y":1.4},{"x":100.5825,"y":2.8},{"x":100.585,"y":-1.35},{"x":100.5875,"y":3.5},{"x":100.59,"y":0},{"x":100.5925,"y":7.8},{"x":100.595,"y":2.8},{"x":100.5975,"y":-1.35},
{"x":100.6,"y":16.5},{"x":100.6025,"y":2.1},{"x":100.605,"y":4.4},{"x":100.6075,"y":-1.35},{"x":100.61,"y":11.5},{"x":100.6125,"y":2.8},{"x":100.615,"y":17.9},{"x":100.6175,"y":-1.35},{"x":100.62,"y":0.7},{"x":100.6225,"y":4.2},
{"x":100.625,"y":-1.35},{"x":100.6275,"y":5.8},{"x":100.63,"y":0},{"x":100.6325,"y":2.8},{"x":100.635,"y":-1.35},{"x":100.6375,"y":4.4},{"x":100.64,"y":-0.7},{"x":100.6425,"y":2.1},{"x":100.645,"y":7.9},{"x":100.6475,"y":-1.35},
{"x":100.65,"y":3.5},{"x":100.6525,"y":1.4},{"x":100.655,"y":4.9},{"x":100.6575,"y":-1.35},{"x":100.66,"y":11.5},{"x":100.6625,"y":2.8},{"x":100.665,"y":4.4},{"x":100.6675,"y":20.5},{"x":100.67,"y":-1.35},{"x":100.6725,"y":3.5},
{"x":100.675,"y":0},{"x":100.6775,"y":4.2},{"x":100.68,"y":9.2},{"x":100.6825,"y":-1.35},{"x":100.685,"y":0.7},{"x":100.6875,"y":3.5},{"x":100.69,"y":6.5},{"x":100.6925,"y":-1.35},{"x":100.695,"y":18.6},{"x":100.6975,"y":2.8},
{"x":100.7,"y":-1.35},{"x":100.7025,"y":9.9},{"x":100.705,"y":2.1},{"x":100.7075,"y":8.5},{"x":100.71,"y":-1.35},{"x":100.7125,"y":3.5},{"x":100.715,"y":1.4},{"x":100.7175,"y":-1.35},{"x":100.72,"y":2.8},{"x":100.7225,"y":1.4},
{"x":100.725,"y":-1.35},{"x":100.7275,"y":2.1},{"x":100.73,"y":4.4},{"x":100.7325,"y":-1.35},{"x":100.735,"y":1.4},{"x":100.7375,"y":2.8},{"x":100.74,"y":-1.35},{"x":100.7425,"y":3.5},{"x":100.745,"y":5.8},{"x":100.7475,"y":-1.35},
{"x":100.75,"y":1.4},{"x":100.7525,"y":2.8},{"x":100.755,"y":-1.35},{"x":100.7575,"y":4.4},{"x":100.76,"y":0},{"x":100.7625,"y":2.1},{"x":100.765,"y":-1.35},{"x":100.7675,"y":11.5},{"x":100.77,"y":-1.35},{"x":100.7725,"y":2.8},
{"x":100.775,"y":1.4},{"x":100.7775,"y":4.2},{"x":100.78,"y":5.8},{"x":100.7825,"y":-1.35},{"x":100.785,"y":2.8},{"x":100.7875,"y":7.8},{"x":100.79,"y":-1.35},{"x":100.7925,"y":0},{"x":100.795,"y":3.5},{"x":100.7975,"y":5.8},
{"x":100.8,"y":-1.35},{"x":100.8025,"y":2.1},{"x":100.805,"y":4.4},{"x":100.8075,"y":7.2},{"x":100.81,"y":-1.35},{"x":100.8125,"y":2.8},{"x":100.815,"y":1.4},{"x":100.8175,"y":3.5},{"x":100.82,"y":-1.35},{"x":100.8225,"y":2.1},
{"x":100.825,"y":4.4},{"x":100.8275,"y":10.1},{"x":100.83,"y":-1.35},{"x":100.8325,"y":1.4},{"x":100.835,"y":3.5},{"x":100.8375,"y":-1.35},{"x":100.84,"y":0.7},{"x":100.8425,"y":4.4},{"x":100.845,"y":5.1},{"x":100.8475,"y":-1.35},
{"x":100.85,"y":2.8},{"x":100.8525,"y":4.2},{"x":100.855,"y":18.6},{"x":100.8575,"y":-1.35},{"x":100.86,"y":7.2},{"x":100.8625,"y":1.4},{"x":100.865,"y":4.9},{"x":100.8675,"y":-1.35},{"x":100.87,"y":9.4},{"x":100.8725,"y":4.4},
{"x":100.875,"y":-1.35},{"x":100.8775,"y":11.5},{"x":100.88,"y":17.1},{"x":100.8825,"y":3.5},{"x":100.885,"y":10.1},{"x":100.8875,"y":-1.35},{"x":100.89,"y":4.4},{"x":100.8925,"y":2.1},{"x":100.895,"y":17.2},{"x":100.8975,"y":-1.35},
{"x":100.9,"y":2.8},{"x":100.9025,"y":1.4},{"x":100.905,"y":4.2},{"x":100.9075,"y":5.1},{"x":100.91,"y":-1.35},{"x":100.9125,"y":2.1},{"x":100.915,"y":3.5},{"x":100.9175,"y":-1.35},{"x":100.92,"y":2.8},{"x":100.9225,"y":1.4},
{"x":100.925,"y":5.1},{"x":100.9275,"y":-1.35},{"x":100.93,"y":3.5},{"x":100.9325,"y":1.4},{"x":100.935,"y":4.4},{"x":100.9375,"y":-1.35},{"x":100.94,"y":5.8},{"x":100.9425,"y":2.8},{"x":100.945,"y":-1.35},{"x":100.9475,"y":4.2},
{"x":100.95,"y":7.8},{"x":100.9525,"y":-1.35},{"x":100.955,"y":3.5},{"x":100.9575,"y":2.1},{"x":100.96,"y":13.6},{"x":100.9625,"y":4.4},{"x":100.965,"y":-1.35},{"x":100.9675,"y":10.8},{"x":100.97,"y":8.5},{"x":100.9725,"y":2.8},
{"x":100.975,"y":4.4},{"x":100.9775,"y":-1.35},{"x":100.98,"y":7.2},{"x":100.9825,"y":2.1},{"x":100.985,"y":4.9},{"x":100.9875,"y":-1.35},{"x":100.99,"y":3.5},{"x":100.9925,"y":4.4},{"x":100.995,"y":13.6},{"x":100.9975,"y":2.1},
{"x":101,"y":9}],
"d":[{"x":100.2,"y":1.42},{"x":100.20018,"y":1.42},{"x":100.20035,"y":0.73},{"x":100.2007,"y":0.73},{"x":100.20077,"y":-1.35},{"x":100.20122,"y":-1.35},{"x":100.20132,"y":0.73},{"x":100.20157,"y":0.73},{"x":100.20167,"y":6.28},{"x":100.20181,"y":4.38},{"x":100.20191,"y":4.38},{"x":100.20209,"y":-1.35},{"x":100.20226,"y":5.76},{"x":100.20243,"y":7.85},{"x":100.20261,"y":5.59},{"x":100.20271,"y":2.12},{"x":100.20285,"y":5.59},{"x":100.20306,"y":3.51},{"x":100.2032,"y":4.9},{"x":100.20331,"y":-0.66},{"x":100.20348,"y":1.42},{"x":100.20383,"y":1.42},{"x":100.204,"y":-1.35},{"x":100.20418,"y":0},{"x":100.20435,"y":0},{"x":100.20446,"y":-1.35},{"x":100.20592,"y":-1.35},{"x":100.20598,"y":0},{"x":100.20626,"y":0},{"x":100.20633,"y":-1.35},{"x":100.20713,"y":-1.35},{"x":100.2072,"y":-0.66},{"x":100.20748,"y":-0.66},{"x":100.20765,"y":0},{"x":100.20793,"y":0.73},{"x":100.20817,"y":2.12},{"x":100.20835,"y":1.42},{"x":100.20853,"y":0.73},{"x":100.2087,"y":0},{"x":100.20887,"y":1.42},{"x":100.20905,"y":1.42},{"x":100.20922,"y":-0.66},{"x":100.2094,"y":0},{"x":100.20957,"y":-0.66},{"x":100.20974,"y":0},{"x":100.20992,"y":-1.35},{"x":100.21009,"y":-1.35},{"x":100.21026,"y":1.42},{"x":100.21044,"y":4.38},{"x":100.21062,"y":3.51},{"x":100.21078,"y":0},{"x":100.21096,"y":-1.35},{"x":100.21114,"y":-1.35},{"x":100.21131,"y":0.73},{"x":100.21148,"y":2.12},{"x":100.21166,"y":0.73},{"x":100.21183,"y":-1.35},{"x":100.2127,"y":-1.35},{"x":100.21281,"y":0},{"x":100.21305,"y":0},{"x":100.21323,"y":1.42},{"x":100.21333,"y":4.38},{"x":100.2135,"y":3.51},{"x":100.21364,"y":2.81},{"x":100.21375,"y":0},{"x":100.21392,"y":2.81},{"x":100.21413,"y":4.38},{"x":100.21427,"y":2.81},{"x":100.21444,"y":0.73},{"x":100.21462,"y":0},{"x":100.21479,"y":1.42},{"x":100.21496,"y":3.68},{"x":100.21514,"y":2.81},{"x":100.21531,"y":0.73},{"x":100.21548,"y":-1.35},{"x":100.21653,"y":-1.35},{"x":100.21663,"y":0.73},{"x":100.21678,"y":2.12},{"x":100.21688,"y":1.42},{"x":100.21705,"y":0.73},{"x":100.21723,"y":1.42},{"x":100.2174,"y":0.73},{"x":100.21757,"y":0},{"x":100.21775,"y":-0.66},{"x":100.21792,"y":-1.35},{"x":100.21907,"y":-1.35},{"x":100.21921,"y":-0.66},{"x":100.21949,"y":0},{"x":100.21976,"y":0.73},{"x":100.22001,"y":-0.66},{"x":100.22018,"y":-1.35},{"x":100.2214,"y":-1.35},{"x":100.22158,"y":0.73},{"x":100.22182,"y":2.12},{"x":100.222,"y":0.73},{"x":100.22221,"y":0},{"x":100.22234,"y":-0.66},{"x":100.22255,"y":0},{"x":100.22279,"y":0},{"x":100.22297,"y":0.73},{"x":100.22315,"y":-0.66},{"x":100.22331,"y":-1.35},{"x":100.22401,"y":-1.35},{"x":100.22408,"y":0},{"x":100.2245,"y":0},{"x":100.2246,"y":-1.35},{"x":100.22506,"y":-1.35},{"x":100.22513,"y":0},{"x":100.2254,"y":0},{"x":100.22558,"y":2.81},{"x":100.22582,"y":2.81},{"x":100.22593,"y":-1.35},{"x":100.22617,"y":-1.35},{"x":100.22628,"y":1.42},{"x":100.22645,"y":3.51},{"x":100.22662,"y":3.51},{"x":100.22673,"y":0.73},{"x":100.22687,"y":-1.35},{"x":100.22732,"y":-1.35},{"x":100.22742,"y":-0.66},{"x":100.22767,"y":-0.66},{"x":100.22777,"y":-1.35},{"x":100.22811,"y":-1.35},{"x":100.22819,"y":1.42},{"x":100.22836,"y":2.12},{"x":100.22847,"y":3.51},{"x":100.2286,"y":1.42},{"x":100.22871,"y":2.12},{"x":100.22889,"y":0.73},{"x":100.22905,"y":0},{"x":100.22923,"y":2.12},{"x":100.22941,"y":2.12},{"x":100.22958,"y":2.81},{"x":100.22975,"y":0},{"x":100.22993,"y":1.42},{"x":100.2301,"y":2.81},{"x":100.23028,"y":6.46},{"x":100.23045,"y":4.38},{"x":100.23062,"y":0.73},{"x":100.2308,"y":-0.66},{"x":100.23097,"y":-1.35},{"x":100.23114,"y":2.12},{"x":100.23132,"y":3.68},{"x":100.2315,"y":2.12},{"x":100.23167,"y":0},{"x":100.23184,"y":0.73},{"x":100.23202,"y":0},{"x":100.23219,"y":-1.35},{"x":100.23271,"y":-1.35},{"x":100.23289,"y":0},{"x":100.23313,"y":0},{"x":100.23323,"y":4.2},{"x":100.23341,"y":4.2},{"x":100.23351,"y":3.51},{"x":100.23369,"y":6.98},{"x":100.23386,"y":12.9},{"x":100.234,"y":11.5},{"x":100.23411,"y":5.76},{"x":100.23428,"y":0.73},{"x":100.23445,"y":0},{"x":100.23463,"y":-0.66},{"x":100.23487,"y":-0.66},{"x":100.23508,"y":2.12},{"x":100.23522,"y":3.51},{"x":100.23543,"y":2.81},{"x":100.23557,"y":1.42},{"x":100.23578,"y":5.07},{"x":100.23591,"y":6.46},{"x":100.23605,"y":4.2},{"x":100.2362,"y":0},{"x":100.23636,"y":2.81},{"x":100.23654,"y":2.12},{"x":100.23672,"y":5.76},{"x":100.23688,"y":5.59},{"x":100.23706,"y":1.42},{"x":100.23724,"y":-1.35},{"x":100.2374,"y":2.12},{"x":100.23758,"y":4.9},{"x":100.23776,"y":3.51},{"x":100.23793,"y":9.24},{"x":100.23811,"y":5.59},{"x":100.23821,"y":9.24},{"x":100.23835,"y":4.2},{"x":100.23855,"y":2.12},{"x":100.2387,"y":5.94},{"x":100.23884,"y":14.3},{"x":100.23897,"y":10.8},{"x":100.23915,"y":5.76},{"x":100.23933,"y":0.73},{"x":100.23949,"y":0},{"x":100.23967,"y":2.81},{"x":100.23985,"y":6.46},{"x":100.23995,"y":8.54},{"x":100.24009,"y":5.94},{"x":100.2403,"y":2.81},{"x":100.24043,"y":0.73},{"x":100.24064,"y":-1.35},{"x":100.24176,"y":-1.35},{"x":100.24194,"y":1.42},{"x":100.2421,"y":2.81},{"x":100.24228,"y":1.42},{"x":100.24246,"y":0},{"x":100.24262,"y":-1.35},{"x":100.24298,"y":-1.35},{"x":100.24308,"y":-0.66},{"x":100.24333,"y":-0.66},{"x":100.24343,"y":-1.35},{"x":100.24357,"y":0},{"x":100.24377,"y":2.81},{"x":100.24392,"y":5.76},{"x":100.24413,"y":4.9},{"x":100.24427,"y":0.73},{"x":100.2444,"y":0},{"x":100.24455,"y":-0.66},{"x":100.24471,"y":0.73},{"x":100.24489,"y":0},{"x":100.24507,"y":1.42},{"x":100.24524,"y":-0.66},{"x":100.24541,"y":0},{"x":100.24559,"y":7.15},{"x":100.24586,"y":7.15},{"x":100.24601,"y":2.81},{"x":100.24611,"y":0},{"x":100.24628,"y":2.81},{"x":100.24646,"y":2.12},{"x":100.24663,"y":2.81},{"x":100.2468,"y":4.9},{"x":100.24698,"y":4.9},{"x":100.24716,"y":0.73},{"x":100.24733,"y":2.81},{"x":100.2475,"y":4.2},{"x":100.24768,"y":5.76},{"x":100.24785,"y":3.51},{"x":100.24802,"y":0},{"x":100.2482,"y":-1.35},{"x":100.24837,"y":-0.66},{"x":100.24872,"y":-0.66},{"x":100.24889,"y":-1.35},{"x":100.24914,"y":-1.35},{"x":100.24941,"y":2.12},{"x":100.24969,"y":2.81},{"x":100.24983,"y":-0.66}]
},
"spacing":42,
"vconcat":[
{"title":{"text":"Valouev (C.elegans in vivo)","offset":18,"dx":57},
"bounds":"flush","spacing":39,
"hconcat":[
{"width":480,"height":240,
"layer":[
{"data":{"name":"a"},"mark":{"type":"rule","color":"black","strokeWidth":2},
"encoding":{
"x":{"field":"x","type":"quantitative","scale":{"domain":[0,100],"nice":false,"zero":false},
"axis":{"orient":"bottom","values":[0,5,10,15,20,25,30,35,40,45,50,55,60,65,70,75,80,85,90,95,100],"tickSize":{"condition":{"test":"datum.value % 20 === 0","value":-12},"value":-6},"labelExpr":"datum.value % 20 === 0 && datum.value < 100 ? format(datum.value, 'd') : ''","labelPadding":24,"title":"position (kb)","titlePadding":7}},
"y":{"field":"t","type":"quantitative","scale":{"domain":[-10,3],"nice":false,"zero":false},
"axis":{"orient":"left","values":[-10,-9,-8,-7,-6,-5,-4,-3,-2,-1,0,1,2,3],"tickSize":{"condition":{"test":"datum.value % 5 === 0","value":-12},"value":-6},"labelExpr":"datum.value % 5 === 0 ? datum.label : ''","labelPadding":27,"title":"Tags/","titleX":-78,"titleY":164,"titleAngle":-90,"titleAlign":"center","titleBaseline":"middle"}},
"y2":{"datum":-8}}},
{"data":{"name":"a"},"mark":{"type":"line","color":"#00ff00","strokeWidth":1.8,"clip":true},
"encoding":{
"x":{"field":"x","type":"quantitative","axis":{"orient":"top","values":[0,5,10,15,20,25,30,35,40,45,50,55,60,65,70,75,80,85,90,95,100],"tickSize":{"condition":{"test":"datum.value % 20 === 0","value":-12},"value":-6},"labels":false,"title":null}},
"y":{"field":"o","type":"quantitative","axis":{"orient":"right","values":[-10,-9,-8,-7,-6,-5,-4,-3,-2,-1,0,1,2,3],"tickSize":{"condition":{"test":"datum.value % 5 === 0","value":-12},"value":-6},"labels":false,"title":null}}}},
{"data":{"values":[{"base":-8}]},"mark":{"type":"rule","color":"black","strokeWidth":2},
"encoding":{"y":{"field":"base","type":"quantitative","axis":{"orient":"left","labels":false,"ticks":false,"title":"Occ.","titleColor":"#00ff00","titleX":-78,"titleY":81,"titleAngle":-90,"titleAlign":"center","titleBaseline":"middle"}}}}
],
"resolve":{"axis":{"x":"independent","y":"independent"}}},
{"width":480,"height":240,
"layer":[
{"data":{"name":"bo"},"mark":{"type":"line","color":"#00ff00","strokeWidth":2,"clip":true},
"encoding":{
"x":{"field":"x","type":"quantitative","scale":{"domain":[74,84],"nice":false,"zero":false},"axis":{"orient":"top","values":[74,74.5,75,75.5,76,76.5,77,77.5,78,78.5,79,79.5,80,80.5,81,81.5,82,82.5,83,83.5,84],"tickSize":{"condition":{"test":"datum.value % 2 === 0","value":-12},"value":-6},"labels":false,"title":null}},
"y":{"field":"o","type":"quantitative","scale":{"domain":[-10,3],"nice":false,"zero":false},"axis":{"orient":"right","values":[-10,-9,-8,-7,-6,-5,-4,-3,-2,-1,0,1,2,3],"tickSize":{"condition":{"test":"datum.value % 5 === 0","value":-12},"value":-6},"labels":false,"title":null}}}},
{"data":{"name":"bt"},"mark":{"type":"rule","color":"black","strokeWidth":2},
"encoding":{
"x":{"field":"x","type":"quantitative","axis":{"orient":"bottom","values":[74,74.5,75,75.5,76,76.5,77,77.5,78,78.5,79,79.5,80,80.5,81,81.5,82,82.5,83,83.5,84],"tickSize":{"condition":{"test":"datum.value % 2 === 0","value":-12},"value":-6},"labelExpr":"datum.value % 2 === 0 ? format(datum.value, 'd') : ''","labelPadding":24,"title":"position (kb)","titlePadding":7}},
"y":{"field":"t","type":"quantitative","axis":{"orient":"left","values":[-10,-9,-8,-7,-6,-5,-4,-3,-2,-1,0,1,2,3],"tickSize":{"condition":{"test":"datum.value % 5 === 0","value":-12},"value":-6},"labels":false,"title":null}},
"y2":{"datum":-8}}},
{"data":{"values":[{"base":-8}]},"mark":{"type":"rule","color":"black","strokeWidth":2},
"encoding":{"y":{"field":"base","type":"quantitative","axis":null}}}
],
"resolve":{"axis":{"x":"independent","y":"independent"}}}
]},
{"title":{"text":"Schones (H. Sapiens in vivo)","color":"#ff0000","offset":15,"dx":32},
"bounds":"flush","spacing":39,
"hconcat":[
{"width":480,"height":240,
"layer":[
{"data":{"name":"c"},"mark":{"type":"line","color":"#ff0000","strokeWidth":2,"clip":true},
"encoding":{
"x":{"field":"x","type":"quantitative","scale":{"domain":[100,101],"nice":false,"zero":false},
"axis":{"orient":"bottom","values":[100,100.05,100.1,100.15,100.2,100.25,100.3,100.35,100.4,100.45,100.5,100.55,100.6,100.65,100.7,100.75,100.8,100.85,100.9,100.95,101],"tickSize":{"condition":{"test":"abs(datum.value*5 - round(datum.value*5)) < 0.001","value":-12},"value":-6},"labelExpr":"abs(datum.value*5 - round(datum.value*5)) < 0.001 && datum.value < 100.9 ? format(datum.value, '.1~f') : ''","labelPadding":24,"title":"position (100 kb)","titlePadding":7}},
"y":{"field":"y","type":"quantitative","scale":{"domain":[-5,20],"nice":false,"zero":false},
"axis":{"orient":"left","values":[-5,-4,-3,-2,-1,0,1,2,3,4,5,6,7,8,9,10,11,12,13,14,15,16,17,18,19,20],"tickSize":{"condition":{"test":"datum.value % 5 === 0","value":-12},"value":-6},"labelExpr":"datum.value % 5 === 0 ? datum.label : ''","labelPadding":27,"title":"Occ.","titleColor":"#ff0000","titleX":-81,"titleY":120,"titleAngle":-90,"titleAlign":"center","titleBaseline":"middle"}}}},
{"data":{"name":"c"},"mark":{"type":"line","color":"#ff0000","strokeWidth":2,"clip":true},
"encoding":{
"x":{"field":"x","type":"quantitative","axis":{"orient":"top","values":[100,100.05,100.1,100.15,100.2,100.25,100.3,100.35,100.4,100.45,100.5,100.55,100.6,100.65,100.7,100.75,100.8,100.85,100.9,100.95,101],"tickSize":{"condition":{"test":"abs(datum.value*5 - round(datum.value*5)) < 0.001","value":-12},"value":-6},"labels":false,"title":null}},
"y":{"field":"y","type":"quantitative","axis":{"orient":"right","values":[-5,-4,-3,-2,-1,0,1,2,3,4,5,6,7,8,9,10,11,12,13,14,15,16,17,18,19,20],"tickSize":{"condition":{"test":"datum.value % 5 === 0","value":-12},"value":-6},"labels":false,"title":null}}}}
],
"resolve":{"axis":{"x":"independent","y":"independent"}}},
{"width":480,"height":240,
"layer":[
{"data":{"name":"d"},"mark":{"type":"line","color":"#ff0000","strokeWidth":2,"clip":true},
"encoding":{
"x":{"field":"x","type":"quantitative","scale":{"domain":[100.2,100.25],"nice":false,"zero":false},
"axis":{"orient":"bottom","values":[100.2,100.202,100.204,100.206,100.208,100.21,100.212,100.214,100.216,100.218,100.22,100.222,100.224,100.226,100.228,100.23,100.232,100.234,100.236,100.238,100.24,100.242,100.244,100.246,100.248,100.25],"tickSize":{"condition":{"test":"abs(datum.value*100 - round(datum.value*100)) < 0.001","value":-12},"value":-6},"labelExpr":"abs(datum.value*100 - round(datum.value*100)) < 0.001 ? format(datum.value, '.2~f') : ''","labelPadding":24,"title":"position (100 kb)","titlePadding":7}},
"y":{"field":"y","type":"quantitative","scale":{"domain":[-5,20],"nice":false,"zero":false},
"axis":{"orient":"left","values":[-5,-4,-3,-2,-1,0,1,2,3,4,5,6,7,8,9,10,11,12,13,14,15,16,17,18,19,20],"tickSize":{"condition":{"test":"datum.value % 5 === 0","value":-12},"value":-6},"labels":false,"title":null}}}},
{"data":{"name":"d"},"mark":{"type":"line","color":"#ff0000","strokeWidth":2,"clip":true},
"encoding":{
"x":{"field":"x","type":"quantitative","axis":{"orient":"top","values":[100.2,100.202,100.204,100.206,100.208,100.21,100.212,100.214,100.216,100.218,100.22,100.222,100.224,100.226,100.228,100.23,100.232,100.234,100.236,100.238,100.24,100.242,100.244,100.246,100.248,100.25],"tickSize":{"condition":{"test":"abs(datum.value*100 - round(datum.value*100)) < 0.001","value":-12},"value":-6},"labels":false,"title":null}},
"y":{"field":"y","type":"quantitative","axis":{"orient":"right","values":[-5,-4,-3,-2,-1,0,1,2,3,4,5,6,7,8,9,10,11,12,13,14,15,16,17,18,19,20],"tickSize":{"condition":{"test":"datum.value % 5 === 0","value":-12},"value":-6},"labels":false,"title":null}}}}
],
"resolve":{"axis":{"x":"independent","y":"independent"}}}
]}
]
}
